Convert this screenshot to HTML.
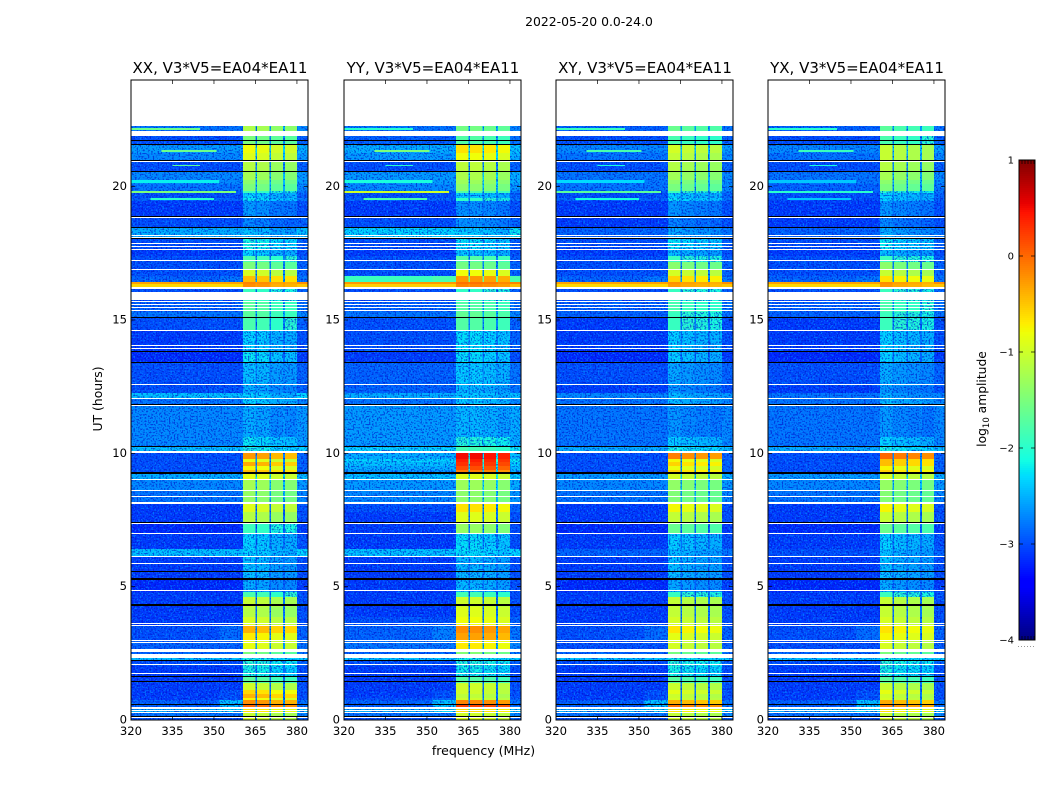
<!DOCTYPE html>
<html>
<head>
<meta charset="utf-8">
<title>2022-05-20 amplitude waterfall</title>
<style>
html,body{margin:0;padding:0;background:#fff;}
svg{display:block;}
text{font-family:"DejaVu Sans","Liberation Sans",sans-serif;fill:#000;}
</style>
</head>
<body>
<svg id="chart" xmlns="http://www.w3.org/2000/svg" width="1050" height="800" viewBox="0 0 1050 800">
  <defs>
    <filter id="speckle-light" x="0" y="0" width="100%" height="100%" color-interpolation-filters="sRGB">
      <feTurbulence type="fractalNoise" baseFrequency="0.62" numOctaves="1" seed="7"/>
      <feColorMatrix type="matrix" values="0 0 0 0 0  0 0 0 0 0.6  0 0 0 0 1  7 0 0 0 -3.6"/>
    </filter>
    <filter id="speckle-dark" x="0" y="0" width="100%" height="100%" color-interpolation-filters="sRGB">
      <feTurbulence type="fractalNoise" baseFrequency="0.62" numOctaves="1" seed="23"/>
      <feColorMatrix type="matrix" values="0 0 0 0 0  0 0 0 0 0.05  0 0 0 0 0.78  7 0 0 0 -3.6"/>
    </filter>
  </defs>
  <text x="589" y="26" font-size="12.4" text-anchor="middle">2022-05-20 0.0-24.0</text>
  <text x="483.500" y="755" font-size="12.5" text-anchor="middle">frequency (MHz)</text>
  <text x="0" y="0" font-size="12.4" text-anchor="middle" transform="translate(102,399) rotate(-90)">UT (hours)</text>
  <text x="0" y="0" font-size="12.3" text-anchor="middle" transform="translate(986,399) rotate(-90)">log<tspan font-size="8.500" dy="3">10</tspan><tspan dy="-3"> amplitude</tspan></text>
  <g id="panels"></g>
  <g id="colorbar"></g>
</svg>
<script>
// Category data
const panelNames = ['XX', 'YY', 'XY', 'YX'];
const titleSuffix = ', V3*V5=EA04*EA11';
const freqTicks = [320, 335, 350, 365, 380];
const utTicks = [0, 5, 10, 15, 20];
const cbarTicks = [1, 0, -1, -2, -3, -4];

// Time (UT hours) at the top of each row band
const rowUT = [22.275,21.9,21.5625,21.2625,20.925,20.5875,20.25,20.1,19.8375,19.7625,19.575,19.4625,18.9,18.45,18.075,17.625,17.4,17.175,16.875,16.65,16.425,16.35,16.2375,15.7125,15.3,15.075,14.5875,13.8,13.3875,12.525,12.2625,12.0375,11.775,10.6125,10.2375,10.0125,9.7875,9.675,9.525,9.375,9.225,9.0,8.5875,8.1,7.8,7.3875,6.975,6.4125,6.1125,5.25,4.8,4.6125,4.2375,3.8625,3.525,3.2625,3.0,2.55,2.325,2.2125,2.025,1.65,1.3875,1.125,0.975,0.825,0.75,0.5625,0.45,0.2625,0.1125];

// log10 amplitude of the off-band background, by row
const bgXX = [-2.8,-3.0,-2.6,-2.7,-3.0,-2.7,-2.7,-2.8,-2.9,-3.0,-2.9,-3.1,-3.0,-2.5,-3.0,-3.1,-3.0,-3.0,-3.0,-2.9,-0.3,-0.6,-3.0,-2.9,-2.8,-3.0,-3.1,-3.2,-3.0,-3.0,-2.4,-2.8,-2.7,-2.7,-2.4,-3.0,-3.0,-3.0,-3.0,-3.0,-2.5,-2.7,-2.8,-3.1,-3.1,-3.2,-3.1,-2.4,-3.1,-3.2,-3.1,-3.1,-3.1,-3.1,-3.0,-3.0,-2.9,-2.9,-2.4,-3.0,-3.1,-3.1,-3.1,-3.1,-3.1,-3.1,-2.9,-2.9,-2.5,-2.8,-3.0];
const bgYY = [-2.8,-2.9,-2.5,-2.6,-3.0,-2.6,-2.6,-2.7,-2.9,-3.0,-2.9,-3.1,-3.0,-2.3,-3.0,-3.1,-3.0,-3.0,-3.0,-1.9,-0.25,-0.55,-3.0,-2.9,-2.8,-3.0,-3.0,-3.1,-2.9,-2.9,-2.5,-2.8,-2.6,-2.6,-2.3,-2.5,-2.3,-2.4,-2.5,-2.6,-2.4,-2.6,-2.7,-3.0,-3.1,-3.1,-3.1,-2.4,-3.1,-3.1,-3.1,-3.1,-3.1,-3.0,-2.9,-2.9,-2.8,-2.9,-2.4,-3.0,-3.1,-3.1,-3.1,-3.1,-3.1,-3.0,-2.9,-2.9,-2.5,-2.8,-3.0];
const bgXY = [-2.9,-3.0,-2.7,-2.8,-3.0,-2.8,-2.8,-2.8,-2.9,-3.0,-2.9,-3.1,-3.1,-2.9,-3.0,-3.1,-3.0,-3.0,-3.0,-2.9,-0.3,-0.6,-3.0,-2.9,-2.9,-3.1,-3.1,-3.2,-3.0,-3.1,-2.7,-2.8,-2.8,-2.8,-2.5,-3.0,-3.0,-3.0,-3.0,-3.0,-2.6,-2.7,-2.8,-3.1,-3.1,-3.2,-3.1,-2.9,-3.1,-3.2,-3.1,-3.1,-3.1,-3.1,-3.0,-3.0,-3.0,-2.9,-2.4,-3.0,-3.1,-3.1,-3.1,-3.1,-3.1,-3.1,-2.9,-2.9,-2.5,-2.8,-3.0];
const bgYX = [-2.9,-3.0,-2.7,-2.8,-3.0,-2.8,-2.8,-2.9,-2.9,-3.0,-3.0,-3.1,-3.1,-2.9,-3.0,-3.1,-3.0,-3.0,-3.0,-2.9,-0.3,-0.6,-3.0,-2.9,-2.9,-3.1,-3.1,-3.2,-3.0,-3.1,-2.8,-2.8,-2.8,-2.8,-2.5,-3.0,-3.0,-3.0,-3.0,-3.0,-2.6,-2.7,-2.8,-3.1,-3.1,-3.2,-3.1,-3.0,-3.1,-3.2,-3.1,-3.1,-3.1,-3.1,-3.0,-3.0,-3.0,-2.9,-2.4,-3.0,-3.1,-3.1,-3.1,-3.1,-3.1,-3.1,-2.9,-2.9,-2.5,-2.8,-3.0];

// log10 amplitude inside the 360-380 MHz bands, by row
const bandXX = [-1.3,-1.6,-0.9,-1.0,-1.25,-1.35,-1.5,-1.6,-2.0,-2.4,-2.3,-2.7,-2.8,-2.5,-2.2,-2.4,-1.9,-1.6,-1.05,-0.55,-0.25,-0.3,-2.0,-1.8,-1.8,-1.9,-2.4,-2.3,-2.5,-2.6,-2.4,-2.4,-2.6,-2.3,-2.2,-0.35,-0.95,-0.45,-0.85,-0.55,-0.95,-1.35,-1.45,-1.0,-1.25,-2.0,-2.4,-2.4,-2.5,-2.6,-1.9,-1.15,-1.25,-1.05,-0.5,-0.8,-0.95,-1.6,-2.2,-2.1,-2.2,-1.8,-1.1,-0.7,-0.5,-0.85,-0.3,-0.1,-0.75,-1.15,-1.05];
const bandYY = [-1.6,-1.8,-0.7,-0.85,-1.15,-1.25,-1.35,-1.45,-1.8,-2.4,-2.0,-2.7,-2.7,-2.4,-2.3,-2.4,-1.8,-1.6,-0.85,-0.3,-0.1,-0.2,-2.0,-1.8,-1.7,-1.8,-2.3,-2.3,-2.4,-2.5,-2.4,-2.4,-2.5,-2.1,-1.9,0.45,0.35,0.25,0.1,-0.15,-0.95,-1.35,-1.45,-0.7,-0.95,-1.4,-2.3,-2.3,-2.5,-2.5,-1.9,-1.05,-0.95,-0.85,-0.25,-0.35,-0.75,-1.5,-2.2,-2.1,-2.2,-1.8,-1.05,-1.05,-1.15,-1.05,-0.2,0.15,-0.65,-1.05,-0.95];
const bandXY = [-1.7,-1.9,-1.05,-1.15,-1.25,-1.35,-1.5,-1.6,-2.0,-2.4,-2.3,-2.7,-2.8,-2.6,-2.3,-2.5,-2.0,-1.5,-1.05,-0.65,-0.3,-0.35,-2.0,-1.9,-2.0,-2.0,-2.4,-2.4,-2.6,-2.7,-2.5,-2.5,-2.7,-2.4,-2.2,-0.2,-0.85,-0.65,-0.9,-0.65,-1.05,-1.45,-1.55,-0.85,-1.15,-1.7,-2.4,-2.5,-2.5,-2.6,-2.0,-1.15,-1.15,-1.05,-0.75,-0.95,-1.05,-1.6,-2.2,-2.1,-2.2,-1.8,-1.1,-0.95,-1.1,-1.05,-0.45,-0.15,-0.75,-1.15,-1.05];
const bandYX = [-1.8,-1.9,-1.15,-1.15,-1.25,-1.35,-1.5,-1.6,-2.1,-2.4,-2.4,-2.7,-2.8,-2.6,-2.3,-2.5,-2.0,-1.5,-1.15,-0.75,-0.3,-0.35,-2.0,-1.9,-2.0,-2.0,-2.4,-2.4,-2.6,-2.7,-2.6,-2.5,-2.7,-2.4,-2.2,-0.1,-0.55,-0.55,-0.85,-0.65,-1.05,-1.45,-1.55,-0.85,-1.15,-1.7,-2.4,-2.5,-2.5,-2.6,-2.0,-1.15,-1.15,-1.05,-0.75,-0.85,-1.05,-1.6,-2.2,-2.1,-2.2,-1.8,-1.15,-0.95,-1.1,-1.05,-0.45,-0.25,-0.75,-1.15,-1.05];

// Rise of the 352-360.5 MHz shoulder above the background, by row
const shoulderRise = [0,0,0,0,0,0,0,0,0,0,0,0,0,0,0,0,0,0,0,0.1,0,0,0,0,0,0,0,0,0,0,0,0,0,0,0,0,0,0,0,0,0,0,0,0,0,0,0,0,0,0,0,0,0,0,0.15,0.15,0,0,0,0,0,0,0,0.1,0.1,0.1,0.5,0.5,0.2,0,0];

// Narrow-band interference streaks: time, duration, frequency extent, level per panel
const streakUT = [22.2, 21.375, 20.8125, 20.25, 19.8375, 19.575];
const streakSpan = [0.075, 0.075, 0.0375, 0.1125, 0.075, 0.075];
const streakFrom = [320, 331, 335, 320, 320, 327];
const streakTo = [345, 351, 345, 352, 358, 350];
const streakXX = [-1.6, -1.6, -1.7, -2.2, -1.5, -2.0];
const streakYY = [-2.0, -1.5, -2.0, -2.1, -1.0, -1.8];
const streakXY = [-1.9, -1.8, -2.1, -2.3, -1.7, -2.1];
const streakYX = [-2.0, -1.9, -2.1, -2.4, -2.0, -2.4];

// Per-spectral-window level offsets for each panel (four bands)
const spwXX = [0.1, 0.05, -0.08, -0.1];
const spwYY = [0.05, 0.05, 0, -0.08];
const spwXY = [0.08, 0, -0.05, -0.08];
const spwYX = [0.1, 0, -0.05, -0.1];

// Band edges in MHz
const bandStart = [360.5, 365.6, 370.7, 375.7];
const bandEnd = [365, 370, 375, 380];

// Flagged (blank) and zero-amplitude (black) intervals in UT hours
const blankUT = [22.0875,20.9625,18.8625,18.1875,18.1125,17.8875,17.775,17.6625,17.25,16.9125,16.2375,16.05,15.7125,15.6,15.4875,15.375,14.625,14.0625,13.95,12.6,12.075,11.8125,10.0875,9.0375,8.625,8.4,8.175,7.3875,7.0125,6.15,5.8875,4.875,3.6375,3.5625,3.0,2.925,2.6625,2.475,2.1,1.7625,0.4875,0.375,0.3,0.1125];
const blankSpan = [0.1875,0.0375,0.0375,0.0375,0.0375,0.0375,0.0375,0.0375,0.0375,0.0375,0.075,0.3,0.0375,0.0375,0.0375,0.0375,0.0375,0.0375,0.0375,0.0375,0.0375,0.0375,0.075,0.0375,0.0375,0.0375,0.075,0.0375,0.0375,0.0375,0.0375,0.0375,0.0375,0.0375,0.0375,0.0375,0.1125,0.15,0.0375,0.0375,0.075,0.0375,0.0375,0.0375];
const zeroUT = [21.75,21.6,21.0,20.5875,18.9,18.4875,18.075,15.1125,13.8375,13.425,11.85,10.275,9.3,7.425,5.5875,5.325,4.35,2.25,1.65,1.4625,0.6,0.15];
const zeroSpan = [0.0375,0.0375,0.0375,0.0375,0.0375,0.0375,0.0375,0.0375,0.0375,0.0375,0.0375,0.0375,0.075,0.0375,0.0375,0.075,0.075,0.0375,0.0375,0.0375,0.0375,0.0375];

const SVGNS = 'http://www.w3.org/2000/svg';
const bgByPanel = [bgXX, bgYY, bgXY, bgYX];
const bandByPanel = [bandXX, bandYY, bandXY, bandYX];
const spwByPanel = [spwXX, spwYY, spwXY, spwYX];
const streakByPanel = [streakXX, streakYY, streakXY, streakYX];
const panelLeft = [131, 344, 556, 768];
const panelWidth = 177;
const plotTop = 80;
const plotBottom = 720;
const freqMin = 320;
const freqMax = 384;
const utMax = 24;

function xScale(panel, mhz) {
  return panelLeft[panel] + (mhz - freqMin) / (freqMax - freqMin) * panelWidth;
}
function yScale(ut) {
  return plotBottom - ut / utMax * (plotBottom - plotTop);
}
function lerp(t, pts) {
  if (t <= pts[0][0]) return pts[0][1];
  for (let i = 1; i < pts.length; i++) {
    if (t <= pts[i][0]) {
      const a = pts[i - 1], b = pts[i];
      return a[1] + (b[1] - a[1]) * (t - a[0]) / (b[0] - a[0]);
    }
  }
  return pts[pts.length - 1][1];
}
function jet(level) {
  const t = Math.max(0, Math.min(1, (level + 4) / 5));
  const r = lerp(t, [[0, 0], [0.35, 0], [0.66, 1], [0.89, 1], [1, 0.5]]);
  const g = lerp(t, [[0, 0], [0.125, 0], [0.375, 1], [0.64, 1], [0.91, 0], [1, 0]]);
  const b = lerp(t, [[0, 0.5], [0.11, 1], [0.34, 1], [0.65, 0], [1, 0]]);
  return 'rgb(' + Math.round(r * 255) + ',' + Math.round(g * 255) + ',' + Math.round(b * 255) + ')';
}
function rectInto(parent, x0, x1, y0, y1, fill) {
  const r = document.createElementNS(SVGNS, 'rect');
  r.setAttribute('x', x0.toFixed(2));
  r.setAttribute('y', y0.toFixed(2));
  r.setAttribute('width', (x1 - x0).toFixed(2));
  r.setAttribute('height', (y1 - y0).toFixed(2));
  r.setAttribute('fill', fill);
  parent.appendChild(r);
  return r;
}

const panelsRoot = document.getElementById('panels');

panelNames.forEach(function (name, p) {
  const bg = bgByPanel[p];
  const band = bandByPanel[p];
  const spw = spwByPanel[p];
  const streak = streakByPanel[p];
  const left = panelLeft[p];

  const panel = document.createElementNS(SVGNS, 'g');
  
  
  panelsRoot.appendChild(panel);

  const weak = document.createElementNS(SVGNS, 'g');
  weak.setAttribute('shape-rendering', 'crispEdges');
  
  
  panel.appendChild(weak);

  const top = yScale(rowUT[0]);
  ['speckle-light', 'speckle-dark'].forEach(function (fid) {
    const speck = document.createElementNS(SVGNS, 'rect');
    speck.setAttribute('x', left);
    speck.setAttribute('y', top);
    speck.setAttribute('width', panelWidth);
    speck.setAttribute('height', plotBottom - top);
    speck.setAttribute('fill', '#000');
    speck.setAttribute('filter', 'url(#' + fid + ')');
    speck.setAttribute('opacity', '0.6');
    
    
    panel.appendChild(speck);
  });

  const strong = document.createElementNS(SVGNS, 'g');
  strong.setAttribute('shape-rendering', 'crispEdges');
  
  
  panel.appendChild(strong);

  function cell(f0, f1, y0, y1, level) {
    const target = level > -2.0 ? strong : weak;
    const r = rectInto(target, xScale(p, f0), xScale(p, f1), y0, y1, jet(level));
    
    
  }

  rowUT.forEach(function (ut, i) {
    const y0 = yScale(ut);
    const y1 = yScale(i + 1 < rowUT.length ? rowUT[i + 1] : 0);
    cell(freqMin, 352, y0, y1, bg[i]);
    cell(352, bandStart[0], y0, y1, bg[i] + shoulderRise[i]);
    bandStart.forEach(function (f, s) {
      cell(f, bandEnd[s], y0, y1, band[i] + spw[s]);
      if (s < bandStart.length - 1) {
        cell(bandEnd[s], bandStart[s + 1], y0, y1, Math.min(bg[i] + 0.3, band[i]));
      }
    });
    cell(bandEnd[3], freqMax, y0, y1, bg[i] + 0.1);
  });

  streakUT.forEach(function (ut, i) {
    const r = rectInto(strong, xScale(p, streakFrom[i]), xScale(p, streakTo[i]), yScale(ut), yScale(ut - streakSpan[i]), jet(streak[i]));
    
    
  });

  const flags = document.createElementNS(SVGNS, 'g');
  flags.setAttribute('shape-rendering', 'crispEdges');
  
  
  panel.appendChild(flags);

  blankUT.forEach(function (ut, i) {
    const r = rectInto(flags, left, left + panelWidth, yScale(ut), yScale(ut - blankSpan[i]), '#fff');
    
    
  });
  zeroUT.forEach(function (ut, i) {
    const r = rectInto(flags, left, left + panelWidth, yScale(ut), yScale(ut - zeroSpan[i]), '#000');
    
    
  });

  const frame = document.createElementNS(SVGNS, 'rect');
  frame.setAttribute('x', left);
  frame.setAttribute('y', plotTop);
  frame.setAttribute('width', panelWidth);
  frame.setAttribute('height', plotBottom - plotTop);
  frame.setAttribute('fill', 'none');
  frame.setAttribute('stroke', '#000');
  frame.setAttribute('stroke-width', '1');
  
  
  panel.appendChild(frame);

  const title = document.createElementNS(SVGNS, 'text');
  title.setAttribute('x', left + panelWidth / 2 + 0.5);
  title.setAttribute('y', 73);
  title.setAttribute('font-size', '15');
  title.setAttribute('text-anchor', 'middle');
  title.textContent = name + titleSuffix;
  
  
  panel.appendChild(title);

  freqTicks.forEach(function (f) {
    const x = xScale(p, f);
    [[plotBottom, plotBottom - 4], [plotTop, plotTop + 4]].forEach(function (seg) {
      const t = document.createElementNS(SVGNS, 'line');
      t.setAttribute('x1', x);
      t.setAttribute('x2', x);
      t.setAttribute('y1', seg[0]);
      t.setAttribute('y2', seg[1]);
      t.setAttribute('stroke', '#000');
      t.setAttribute('stroke-width', '0.7');
      
      
      panel.appendChild(t);
    });
    const lab = document.createElementNS(SVGNS, 'text');
    lab.setAttribute('x', x);
    lab.setAttribute('y', 735);
    lab.setAttribute('font-size', '11.6');
    lab.setAttribute('text-anchor', 'middle');
    lab.textContent = String(f);
    
    
    panel.appendChild(lab);
  });

  utTicks.forEach(function (u) {
    const y = yScale(u);
    [[left, left + 4], [left + panelWidth, left + panelWidth - 4]].forEach(function (seg) {
      const t = document.createElementNS(SVGNS, 'line');
      t.setAttribute('x1', seg[0]);
      t.setAttribute('x2', seg[1]);
      t.setAttribute('y1', y);
      t.setAttribute('y2', y);
      t.setAttribute('stroke', '#000');
      t.setAttribute('stroke-width', '0.7');
      
      
      panel.appendChild(t);
    });
    const lab = document.createElementNS(SVGNS, 'text');
    lab.setAttribute('x', left - 4);
    lab.setAttribute('y', y + 3.5);
    lab.setAttribute('font-size', '11.6');
    lab.setAttribute('text-anchor', 'end');
    lab.textContent = String(u);
    
    
    panel.appendChild(lab);
  });
});

// Colorbar
const cbarRoot = document.getElementById('colorbar');
const cbarLeft = 1019;
const cbarRight = 1035;
const cbarTop = 160;
const cbarBottom = 640;
const cbarMax = 1;
const cbarMin = -4;
function cbarY(level) {
  return cbarTop + (cbarMax - level) / (cbarMax - cbarMin) * (cbarBottom - cbarTop);
}
const cbarSteps = document.createElementNS(SVGNS, 'g');
cbarSteps.setAttribute('shape-rendering', 'crispEdges');


cbarRoot.appendChild(cbarSteps);
for (let k = 0; k < 240; k++) {
  const hi = cbarMax - k / 240 * (cbarMax - cbarMin);
  const lo = cbarMax - (k + 1) / 240 * (cbarMax - cbarMin);
  const r = rectInto(cbarSteps, cbarLeft, cbarRight, cbarY(hi), cbarY(lo), jet((hi + lo) / 2));
  
  
}
const cbarFrame = document.createElementNS(SVGNS, 'rect');
cbarFrame.setAttribute('x', cbarLeft);
cbarFrame.setAttribute('y', cbarTop);
cbarFrame.setAttribute('width', cbarRight - cbarLeft);
cbarFrame.setAttribute('height', cbarBottom - cbarTop);
cbarFrame.setAttribute('fill', 'none');
cbarFrame.setAttribute('stroke', '#000');
cbarFrame.setAttribute('stroke-width', '1');


cbarRoot.appendChild(cbarFrame);

cbarTicks.forEach(function (v) {
  const y = cbarY(v);
  [[cbarLeft, cbarLeft + 4], [cbarRight, cbarRight - 4]].forEach(function (seg) {
    const t = document.createElementNS(SVGNS, 'line');
    t.setAttribute('x1', seg[0]);
    t.setAttribute('x2', seg[1]);
    t.setAttribute('y1', y);
    t.setAttribute('y2', y);
    t.setAttribute('stroke', '#000');
    t.setAttribute('stroke-width', '0.7');
    
    
    cbarRoot.appendChild(t);
  });
  const lab = document.createElementNS(SVGNS, 'text');
  lab.setAttribute('x', cbarLeft - 5);
  lab.setAttribute('y', y + 3.5);
  lab.setAttribute('font-size', '10');
  lab.setAttribute('text-anchor', 'end');
  lab.textContent = String(v).replace('-', '\u2212');
  
  
  cbarRoot.appendChild(lab);
});

[1022, 1025, 1028, 1031, 1034].forEach(function (x) {
  [[cbarTop, cbarTop + 4], [cbarBottom, cbarBottom - 4]].forEach(function (seg) {
    const t = document.createElementNS(SVGNS, 'line');
    t.setAttribute('x1', x);
    t.setAttribute('x2', x);
    t.setAttribute('y1', seg[0]);
    t.setAttribute('y2', seg[1]);
    t.setAttribute('stroke', '#000');
    t.setAttribute('stroke-width', '0.7');
    
    
    cbarRoot.appendChild(t);
  });
});
[1018, 1021, 1024, 1027, 1030, 1033].forEach(function (x) {
  const d = document.createElementNS(SVGNS, 'rect');
  d.setAttribute('x', x);
  d.setAttribute('y', 646);
  d.setAttribute('width', 1);
  d.setAttribute('height', 1);
  d.setAttribute('fill', '#999');
  
  
  cbarRoot.appendChild(d);
});
</script>
</body>
</html>
